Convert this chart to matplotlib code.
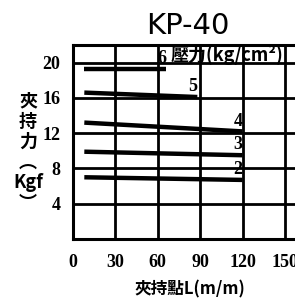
import matplotlib
matplotlib.use('Agg')
import matplotlib.pyplot as plt

# clamping force curves, one per air pressure (kg/cm2)
pressures = [2, 3, 4, 5, 6]
x_start = [8, 8, 8, 8, 8]
x_end = [120, 120, 120, 88, 66]
y_start = [7.0, 9.9, 13.2, 16.6, 19.3]
y_end = [6.7, 9.5, 12.2, 16.1, 19.3]

x_ticks = [0, 30, 60, 90, 120, 150]
y_ticks = [4, 8, 12, 16, 20]

fig = plt.figure(figsize=(2.95, 2.98), dpi=100)
ax = fig.add_axes([0.2475, 0.198, 0.862, 0.651])

ax.set_xlim(0, 180)
ax.set_ylim(0, 22)
ax.set_xticks(x_ticks)
ax.set_yticks(y_ticks)
for s in ax.spines.values():
    s.set_linewidth(2.2)
ax.tick_params(axis='x', length=0, pad=11)
ax.tick_params(axis='y', length=0, pad=9)
for lab in ax.get_xticklabels() + ax.get_yticklabels():
    lab.set_family('Liberation Serif')
    lab.set_fontweight('bold')
    lab.set_fontsize(13)

ax.grid(True, which='major', axis='both', color='black', linewidth=2.0,
        linestyle='-', alpha=1.0)
ax.set_axisbelow(False)

for p, xs, xe, ys, ye in zip(pressures, x_start, x_end, y_start, y_end):
    ax.plot([xs, xe], [ys, ye], color='black', linewidth=3.2,
            solid_capstyle='butt', zorder=3)
    ax.text(xe, ye + 0.2, str(p), ha='right', va='bottom', fontsize=13,
            family='Liberation Serif', fontweight='bold', zorder=4)

ax.text(69, 19.7, '壓力(kg/cm²)', ha='left', va='bottom', fontsize=13,
        family=['Noto Sans CJK TC', 'DejaVu Sans'], fontweight='bold',
        clip_on=False)

fig.text(0.635, 0.913, 'KP-40', ha='center', va='center', fontsize=21,
         family='DejaVu Sans')
fig.text(0.095, 0.49, '夾\n持\n力\n︵\nKgf\n︶', ha='center', va='center',
         fontsize=13, linespacing=1.1, fontweight='bold',
         family=['Noto Sans CJK TC', 'DejaVu Sans'])
fig.text(0.645, 0.03, '夾持點L(m/m)', ha='center', va='center', fontsize=12,
         fontweight='bold', family=['Noto Sans CJK TC', 'DejaVu Sans'])

fig.savefig('out.png', dpi=100)
